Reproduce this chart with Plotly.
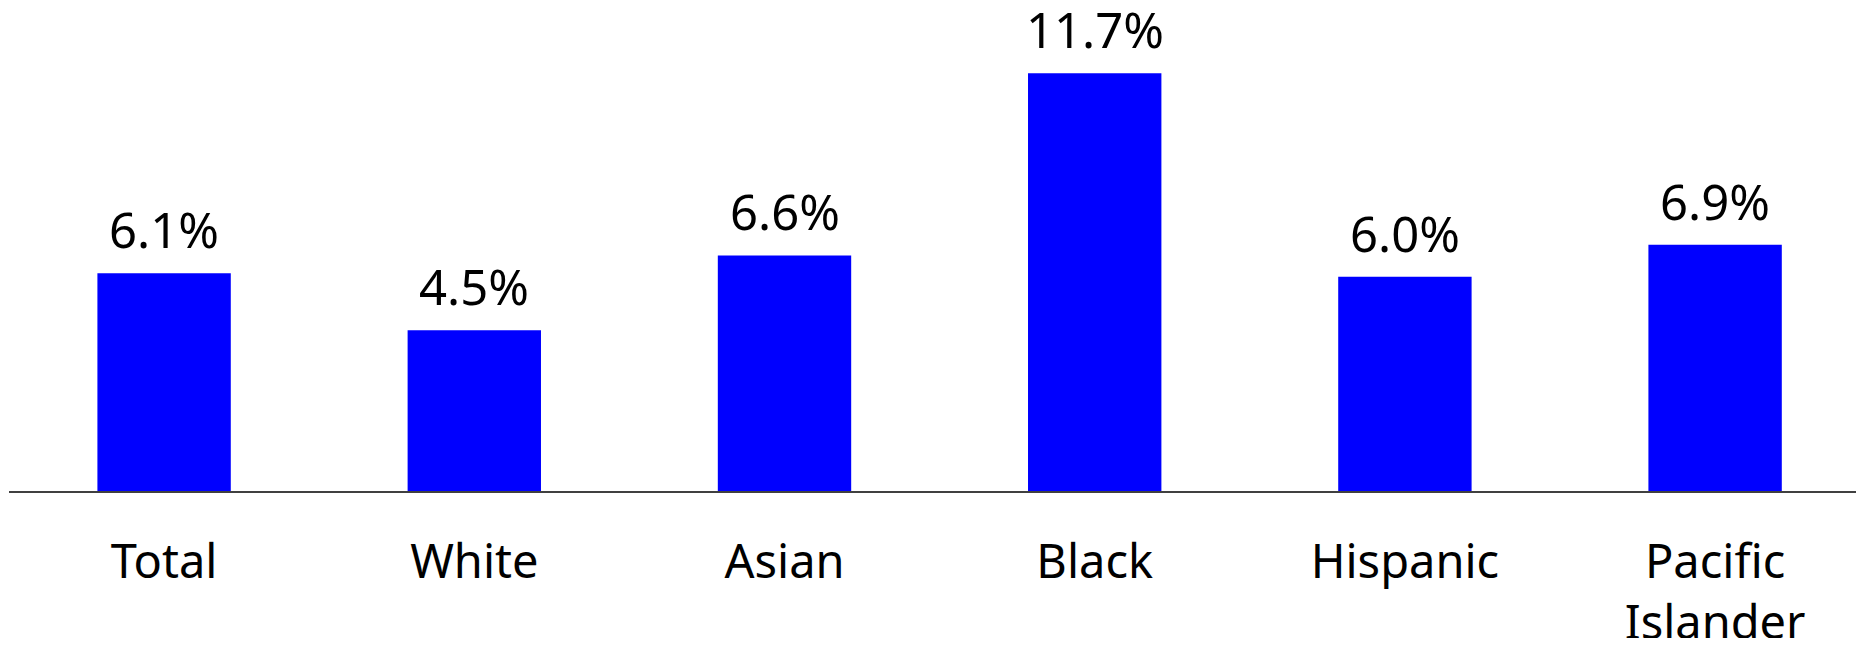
import plotly.graph_objects as go

# Data
categories = ['Total', 'White', 'Asian', 'Black', 'Hispanic', 'Pacific<br>Islander']
rates = [6.1, 4.5, 6.6, 11.7, 6.0, 6.9]
labels = ['6.1%', '4.5%', '6.6%', '11.7%', '6.0%', '6.9%']

BAR_COLOR = '#0000FF'
FONT = 'Noto Sans'

fig = go.Figure()

fig.add_trace(go.Bar(
    x=categories,
    y=rates,
    marker=dict(color=BAR_COLOR, line=dict(width=0)),
    showlegend=False,
    hoverinfo='skip'
))

# value labels above each bar
for cat, val, lab in zip(categories, rates, labels):
    fig.add_annotation(
        x=cat, y=val, text=lab,
        showarrow=False, yanchor='bottom', yshift=9,
        font=dict(family=FONT, size=49, color='black')
    )

# page body adds an 8px margin, so the figure is sized to fit the window
fig.update_layout(
    width=1856,
    height=630,
    margin=dict(l=1, r=0, t=0, b=147),
    paper_bgcolor='white',
    plot_bgcolor='white',
    bargap=0.57,
    font=dict(family=FONT, size=47, color='black'),
    xaxis=dict(
        range=[-0.5, 5.48],
        showline=True, linecolor='#404040', linewidth=1.5,
        ticks='', showgrid=False, zeroline=False,
        ticklabelstandoff=29,
        automargin=False,
        tickfont=dict(family=FONT, size=47, color='black')
    ),
    yaxis=dict(
        range=[0, 13.53],
        visible=False, showgrid=False, zeroline=False
    )
)

fig.write_html("out.html")
